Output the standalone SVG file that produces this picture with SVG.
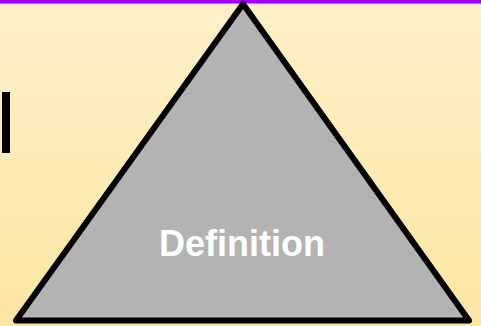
<svg xmlns="http://www.w3.org/2000/svg" width="481" height="326" viewBox="0 0 481 326">
<defs>
<linearGradient id="bg" x1="0" y1="0" x2="0" y2="1">
<stop offset="0" stop-color="#FEF0CA"/>
<stop offset="1" stop-color="#FDE6A3"/>
</linearGradient>
<style>
.tri{fill:#B3B3B3;stroke:#000;stroke-width:6;stroke-linejoin:round}
.lbl{font-family:"Liberation Sans",Arial,sans-serif;font-weight:bold;font-size:36px;fill:#FFFFFF}
</style>
</defs>
<rect x="0" y="0" width="481" height="326" fill="url(#bg)"/>
<rect x="0" y="0" width="481" height="3.5" fill="#9900F5"/>
<rect x="2" y="92" width="8" height="61" fill="#000"/>
<g id="triangle">
<polygon class="tri" points="243,4 469,320.5 16,320.5"/>
<text class="lbl" x="242" y="256" text-anchor="middle">Definition</text>
</g>
</svg>
